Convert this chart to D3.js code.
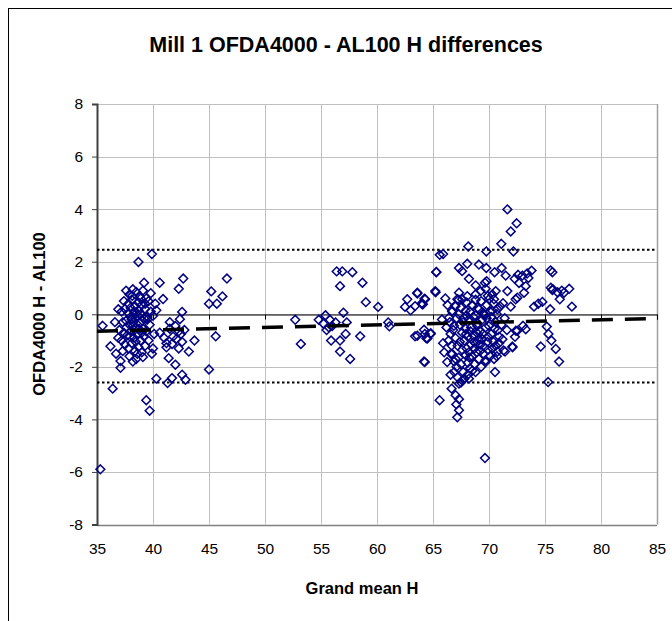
<!DOCTYPE html>
<html>
<head>
<meta charset="utf-8">
<script src="https://cdn.jsdelivr.net/npm/d3@7"></script>
<style>
  html, body { margin: 0; padding: 0; background: #fff; }
  svg { display: block; font-family: "Liberation Sans", Arial, sans-serif; }
</style>
</head>
<body>
<svg id="chart" width="672" height="621"></svg>
<script>
// ---------------- DATA ----------------
const chartTitle = "Mill 1 OFDA4000 - AL100 H differences";
const xTitle = "Grand mean H";
const yTitle = "OFDA4000 H - AL100";
const xTicks = [35, 40, 45, 50, 55, 60, 65, 70, 75, 80, 85];
const yTicks = [-8, -6, -4, -2, 0, 2, 4, 6, 8];

// Limits of agreement (dotted) and trend (dashed)
const upperLimit = 2.45;
const lowerLimit = -2.6;
const trendX = [35, 85];
const trendY = [-0.65, -0.16];

// Cluster near grand mean 35-47
const clusterLow = [
[35.3,-5.9],[35.5,-0.44],[36.2,-1.22],[36.7,-1.5],[37.1,-1.78],[37.1,-2.04],[36.4,-2.83],[36.9,0.19],
[39.4,-3.27],[39.7,-3.67],[38.7,1.99],[39.9,2.29],[39.2,1.2],[40.6,1.2],[42.7,1.36],[42.3,0.97],
[46.6,1.36],[45.2,0.87],[46.2,0.68],[45.0,0.4],[45.7,0.4],[40.9,0.58],[40.2,0.4],[40.0,-0.06],
[42.6,0.09],[42.4,-0.19],[45.6,-0.84],[43.7,-1.0],[40.3,-2.45],[41.3,-2.62],[41.7,-2.43],[42.6,-2.3],
[42.9,-2.49],[45.0,-2.1],[42.0,-1.92],[41.4,-1.67],[43.2,-1.42],[40.0,-1.3],[39.1,-1.63],[38.2,-1.8],
[41.2,-1.26],[42.3,-1.3],[41.7,-1.13],[42.1,-0.94],[42.5,-0.75],[41.5,-0.55],[42.8,-0.6],[41.0,-0.9],
[40.6,-0.7],[41.5,-0.3],[42.0,-0.45],[42.3,-0.65],[41.8,-0.85],[42.6,-1.05],[41.2,-1.1],
[37.6,0.9],[37.9,0.75],[38.2,0.95],[38.5,0.85],[38.8,0.7],[39.1,0.9],[39.4,0.6],[37.4,0.5],
[37.8,0.4],[38.1,0.55],[38.4,0.3],[38.7,0.45],[39.0,0.35],[39.3,0.2],[39.6,0.5],[39.8,0.1],
[37.2,0.1],[37.5,0.2],[37.8,0.05],[38.0,-0.1],[38.3,0.1],[38.6,-0.05],[38.9,0.0],[39.2,-0.15],
[39.5,-0.2],[39.7,-0.4],[37.3,-0.3],[37.6,-0.25],[37.9,-0.4],[38.2,-0.3],[38.5,-0.5],[38.8,-0.35],
[39.1,-0.55],[39.4,-0.65],[37.0,-0.6],[37.4,-0.7],[37.7,-0.8],[38.0,-0.65],[38.3,-0.9],[38.6,-0.75],
[38.9,-1.0],[39.2,-0.85],[39.6,-1.0],[37.2,-1.0],[37.5,-1.15],[37.8,-1.3],[38.1,-1.1],[38.4,-1.4],
[38.7,-1.25],[39.0,-1.45],[39.3,-1.2],[37.9,-1.6],[38.5,-1.7],[36.9,-0.9],[36.6,-0.3],[40.1,-0.75],
[39.9,-1.5],[38.0,0.25],[38.9,0.6],[39.0,-0.7],[38.4,-0.15],[37.6,-0.5],[38.7,0.15],[39.3,0.4],
[38.2,-0.45],[38.6,-1.5],[37.3,-1.4],[39.5,-0.1],[39.8,0.8],[40.3,0.15],
[38.1,-0.2],[38.55,0.05],[38.35,-0.6],[38.75,-0.55],[37.95,-0.85],[38.45,-1.05],[39.05,-0.25],[38.15,0.7]
];

// Cluster near grand mean 52-65
const clusterMid = [
[52.7,-0.21],[53.2,-1.13],[54.8,-0.21],[55.4,-0.04],[55.8,-0.21],[55.7,-0.5],[56.3,-0.31],[57.0,0.06],
[57.3,-0.31],[56.4,1.63],[56.9,1.63],[57.8,1.6],[56.7,1.07],[58.7,1.2],[59.0,0.46],[60.1,0.28],
[57.2,-0.75],[55.9,-1.0],[56.7,-1.0],[56.7,-1.42],[57.6,-1.7],[58.5,-0.84],[61.0,-0.31],[61.1,-0.46],
[62.5,0.28],[62.7,0.57],[63.0,0.15],[63.6,0.82],[63.4,0.31],[64.0,0.42],[64.3,0.57],[64.1,0.38],
[63.4,-0.84],[64.2,-0.59],[64.4,-0.91],[64.8,-0.72],[64.2,-1.8],[55.2,-0.35],[56.0,-0.45],[55.5,-0.6]
];

// Cluster near grand mean 65-78
const clusterHigh = [
[71.64,3.99],[72.47,3.46],[71.94,3.15],[71.1,2.68],[68.15,2.58],[65.9,2.29],[69.76,2.39],[72.18,2.39],
[65.6,2.26],[65.3,1.61],[65.2,0.88],[65.29,1.6],[65.23,0.84],[64.24,0.59],[64.04,0.38],[63.6,0.79],
[64.27,-0.75],[64.78,-0.75],[64.5,-0.92],[63.6,-0.82],[64.27,-1.82],
[67.32,1.76],[68.06,1.92],[67.6,1.64],[69.1,1.89],[69.76,1.76],[70.5,1.6],[71.13,1.76],[71.49,1.47],
[72.3,1.35],[72.98,1.47],[73.8,1.66],[73.52,1.38],[72.68,1.19],[73.28,1.07],[75.5,1.67],[75.66,1.6],
[68.21,1.35],[68.81,1.1],[69.64,1.2],[69.79,1.26],[70.6,0.88],[71.64,0.88],[72.38,0.57],[73.13,0.82],
[72.53,0.63],[71.94,0.29],[71.25,0.42],[74.02,0.29],[74.77,0.47],[75.46,0.19],[75.52,1.01],[75.66,0.92],
[76.11,0.84],[76.32,0.57],[76.7,0.82],[77.16,0.97],[77.4,0.29],[75.16,-0.47],[75.31,-0.75],[75.57,-1.0],
[74.62,-1.23],[75.96,-1.32],[76.26,-1.8],[75.28,-2.58],[73.28,-0.57],[73.04,-0.44],[72.53,-0.63],[72.32,-0.86],
[72.09,-1.23],[71.43,-1.42],[70.75,-1.42],[70.54,-2.2],[70.45,-1.7],[69.7,-1.82],[68.8,-2.2],[68.21,-2.45],
[66.57,-2.3],[66.66,-2.83],[67.02,-3.08],[65.59,-3.27],[67.32,-3.23],[67.08,-3.43],[67.32,-3.65],[67.17,-3.92],
[67.32,-2.64],[67.61,-2.52],[66.27,-1.82],[66.66,-1.19],[66.72,-1.51],[67.02,-1.7],[66.57,-0.75],[66.87,-0.44],
[66.42,-0.13],[66.72,0.13],[66.96,0.32],[67.17,0.57],[67.32,0.82],[67.61,0.57],[68.06,0.69],[68.81,0.76],
[69.25,0.88],[69.7,0.97],[69.99,0.57],[70.45,0.57],[70.75,0.19],[70.3,0.13],[69.55,0.0],[69.1,0.19],
[68.51,0.32],[67.91,0.13],[69.64,-5.47],[72.6,1.5],[73.4,1.55],[75.7,0.95],[76.5,0.9],[74.4,0.4],
[72.4,-0.63],[71.3,-1.38],[72.1,-1.26],
[66.5,-0.3],[66.8,-0.6],[67.0,-0.9],[67.2,-1.2],[67.4,-0.4],[67.6,-0.7],[67.8,-1.0],[68.0,-1.3],
[68.2,-0.2],[68.4,-0.5],[68.6,-0.8],[68.8,-1.1],[69.0,-0.35],[69.2,-0.65],[69.4,-0.95],[69.6,-1.25],
[69.8,-0.15],[70.0,-0.45],[70.2,-0.75],[70.4,-1.05],[70.6,-0.3],[70.8,-0.6],
[66.6,-1.5],[66.9,-1.8],[67.1,-2.0],[67.3,-1.65],[67.5,-1.9],[67.7,-2.2],[67.9,-1.55],[68.1,-1.85],
[68.3,-2.05],[68.5,-1.6],[68.7,-1.9],[68.9,-1.45],[69.1,-1.7],[69.3,-2.0],[69.5,-1.5],[69.7,-1.75],
[69.9,-1.35],[70.1,-1.6],[70.3,-1.3],[70.6,-1.2],
[66.7,0.1],[67.0,0.3],[67.3,0.0],[67.5,0.25],[67.8,-0.15],[68.0,0.45],[68.3,0.1],[68.5,0.35],
[68.8,-0.05],[69.0,0.25],[69.3,0.5],[69.5,0.05],[69.8,0.35],[70.1,0.1],[70.4,0.4],[70.7,0.0],
[67.1,-0.15],[67.4,-1.05],[67.7,-0.3],[67.9,-0.55],[68.1,-0.85],[68.4,-1.15],[68.6,-0.1],[68.9,-0.7],
[69.1,-1.0],[69.4,-0.2],[69.7,-0.5],[69.9,-0.85],[70.2,-0.1],[70.5,-0.55],[68.2,-1.45],[68.7,-1.3],
[69.2,-1.4],[67.6,-1.35],[66.4,-1.0],[66.2,-0.5],[67.2,-2.4],[67.5,-2.6],[67.8,-2.45],[68.1,-2.3],
[68.5,-2.15],[66.9,-2.2],[68.0,-0.05],[69.6,-0.05],[68.8,0.55],[67.3,0.55],[69.9,0.7],[70.3,0.75],
[66.3,0.35],[66.1,0.6],[65.8,-0.2],[65.9,-1.1],[66.0,-1.45],[70.9,-0.85],[71.1,-0.4],[71.4,-0.15],
[71.0,0.3],[70.7,-1.6],[70.9,-1.1],[71.2,-0.95],[71.6,-0.6],
[68.35,-0.65],[68.95,-0.45],[69.45,-0.75],[68.65,-1.05],[69.25,-1.15],[67.95,-0.75],[69.85,-1.05],[68.25,-1.65]
];

// ---------------- CHART ----------------
const svg = d3.select("#chart");
const W = 672, H = 621;
const plot = { left: 97, right: 657, top: 104, bottom: 524.5 };

const x = d3.scaleLinear().domain([35, 85]).range([plot.left, plot.right]);
const y = d3.scaleLinear().domain([-8, 8]).range([plot.bottom, plot.top]);

svg.append("rect").attr("width", W).attr("height", H).attr("fill", "#fff");

// outer chart frame (extends beyond the picture on right/bottom)
svg.append("rect")
  .attr("x", 8.5).attr("y", 8.5).attr("width", 700).attr("height", 700)
  .attr("fill", "none").attr("stroke", "#000").attr("stroke-width", 1);

// gridlines
const grid = svg.append("g").attr("stroke", "#c0c0c0").attr("stroke-width", 1);
grid.selectAll("line.v").data(xTicks).join("line")
  .attr("x1", d => Math.round(x(d)) + 0.5).attr("x2", d => Math.round(x(d)) + 0.5)
  .attr("y1", plot.top).attr("y2", plot.bottom);
grid.selectAll("line.h").data(yTicks).join("line")
  .attr("x1", plot.left).attr("x2", plot.right)
  .attr("y1", d => Math.round(y(d)) + 0.5).attr("y2", d => Math.round(y(d)) + 0.5);

// plot area border (bottom/right gray)
svg.append("line").attr("x1", plot.left).attr("x2", plot.right)
  .attr("y1", Math.round(y(-8)) + 0.5).attr("y2", Math.round(y(-8)) + 0.5)
  .attr("stroke", "#808080").attr("stroke-width", 1.5);
svg.append("line").attr("x1", Math.round(x(85)) + 0.5).attr("x2", Math.round(x(85)) + 0.5)
  .attr("y1", plot.top).attr("y2", plot.bottom)
  .attr("stroke", "#a0a0a0").attr("stroke-width", 1.5);

// y axis (left)
const yAxis = d3.axisLeft(y).tickValues(yTicks).tickSize(5).tickPadding(9).tickFormat(d3.format("d"));
const gy = svg.append("g").attr("transform", `translate(${plot.left},0)`).call(yAxis);
gy.select(".domain").attr("stroke", "#404040").attr("stroke-width", 2);
gy.selectAll(".tick line").attr("stroke", "#404040");
gy.selectAll(".tick text").attr("font-size", 15.5).attr("fill", "#000")
  .attr("font-family", "Liberation Sans, Arial, sans-serif").text(d => d < 0 ? "-" + Math.abs(d) : d);

// x axis along zero line, ticks downward
const xAxisZero = d3.axisBottom(x).tickValues(xTicks).tickSize(5).tickFormat("");
const gx0 = svg.append("g").attr("transform", `translate(0,${Math.round(y(0)) + 0.5})`).call(xAxisZero);
gx0.select(".domain").attr("stroke", "#000").attr("stroke-width", 1);
gx0.selectAll(".tick line").attr("stroke", "#000");

// x tick labels at the bottom
const xAxisLabels = d3.axisBottom(x).tickValues(xTicks).tickSize(0).tickPadding(18).tickFormat(d3.format("d"));
const gx = svg.append("g").attr("transform", `translate(0,${plot.bottom})`).call(xAxisLabels);
gx.select(".domain").remove();
gx.selectAll(".tick text").attr("font-size", 15.5).attr("fill", "#000")
  .attr("font-family", "Liberation Sans, Arial, sans-serif");

// dotted limit lines
[upperLimit, lowerLimit].forEach(v => {
  svg.append("line")
    .attr("x1", plot.left).attr("x2", plot.right)
    .attr("y1", y(v)).attr("y2", y(v))
    .attr("stroke", "#000").attr("stroke-width", 2)
    .attr("stroke-dasharray", "2.5,2.5");
});

// points
const allPoints = clusterLow.concat(clusterMid, clusterHigh);
const r = 4.4;
const diamond = `M0,${-r}L${r},0L0,${r}L${-r},0Z`;
svg.append("g").selectAll("path").data(allPoints).join("path")
  .attr("d", diamond)
  .attr("transform", d => `translate(${x(d[0])},${y(d[1])})`)
  .attr("fill", "none").attr("stroke", "#000080").attr("stroke-width", 1.5);

// trend line (dashed)
const trend = trendX.map((v, i) => [v, trendY[i]]);
svg.append("path")
  .datum(trend)
  .attr("d", d3.line().x(d => x(d[0])).y(d => y(d[1])))
  .attr("fill", "none").attr("stroke", "#000").attr("stroke-width", 3.5)
  .attr("stroke-dasharray", "21,12");

// titles
svg.append("text").attr("x", 346).attr("y", 52).attr("text-anchor", "middle")
  .attr("font-size", 21.5).attr("font-weight", "bold").text(chartTitle);
svg.append("text").attr("x", 362).attr("y", 594).attr("text-anchor", "middle")
  .attr("font-size", 16.5).attr("font-weight", "bold").text(xTitle);
svg.append("text").attr("transform", "translate(45,314) rotate(-90)").attr("text-anchor", "middle")
  .attr("font-size", 16.5).attr("font-weight", "bold").text(yTitle);
</script>
</body>
</html>
